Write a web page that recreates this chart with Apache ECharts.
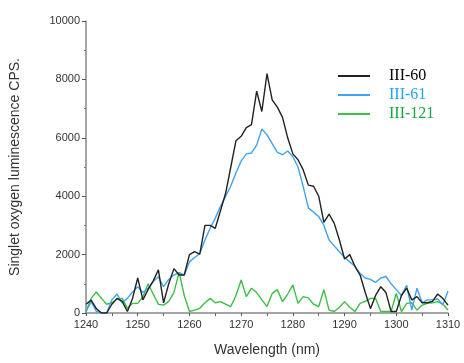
<!DOCTYPE html>
<html><head><meta charset="utf-8">
<script src="https://cdn.jsdelivr.net/npm/echarts@6/dist/echarts.min.js"></script>
<style>html,body{margin:0;padding:0;background:#fff}#c{width:464px;height:363px}</style>
</head><body><div id="c"></div>
<script>
var wavelengths = [];
for (var w = 1240; w <= 1310; w++) wavelengths.push(w);
var seriesNames = ['III-60', 'III-61', 'III-121'];
var iii60 = [300,440,150,0,0,300,500,400,50,500,1200,450,800,1100,1480,350,1000,1520,1300,1300,2000,2100,2020,3000,3000,2900,3500,4100,5000,5900,6050,6350,6450,7600,6900,8200,7300,7050,6700,6000,5450,5250,4900,4380,4340,4000,3100,3390,3070,2500,1850,2000,1600,1300,700,150,600,900,700,50,50,600,850,450,560,350,350,400,650,500,270];
var iii61 = [50,390,50,0,0,450,650,350,500,720,900,700,850,1080,1240,900,1150,1300,1380,1300,1750,1900,2040,2500,2900,3250,3650,4000,4350,4800,5200,5450,5480,5750,6300,6100,5800,5500,5420,5550,5350,5000,4330,3600,3450,3300,3000,2500,2300,2100,1900,1750,1600,1350,1200,1150,1050,1200,1250,1000,800,600,950,100,850,350,450,450,480,280,750];
var iii121 = [50,500,720,500,300,350,480,500,160,330,330,550,1000,650,300,270,400,700,1400,600,50,100,160,350,500,350,390,300,220,600,1130,560,850,700,450,220,670,800,390,650,960,330,560,520,300,220,800,100,50,200,390,200,50,330,400,500,500,50,50,50,670,50,330,350,100,270,330,350,390,300,100];
var lineColors = ['#222222', '#3fa3ee', '#3dbf45'];
var textColors = ['#000000', '#1ea6ee', '#1aa648'];
var yTicks = [0, 2000, 4000, 6000, 8000, 10000];

function pairs(arr){ return arr.map(function(v,i){ return [wavelengths[i], v]; }); }
var allData = [iii60, iii61, iii121];

var chart = echarts.init(document.getElementById('c'));
chart.setOption({
  animation: false,
  backgroundColor: '#fff',
  grid: {left: 86, right: 16, top: 21, bottom: 50},
  legend: {
    orient: 'vertical', left: 333, top: 63, itemWidth: 32, itemHeight: 14, itemGap: 3,
    icon: 'path://M0,0 L32,0 L32,2 L0,2 Z',
    textStyle: {fontFamily: 'Liberation Serif', fontSize: 16, padding: [0,0,0,14]},
    data: seriesNames.map(function(n,i){ return {name: n, textStyle: {color: textColors[i]}}; })
  },
  xAxis: {
    type: 'value', min: 1240, max: 1310, interval: 10,
    name: 'Wavelength (nm)', nameLocation: 'middle', nameGap: 30,
    nameTextStyle: {fontFamily: 'Liberation Sans', fontSize: 14, color: '#333'},
    axisLine: {lineStyle: {color: '#888', width: 1.5}},
    axisTick: {inside: false, length: 3, lineStyle: {color: '#555'}},
    minorTick: {show: true, splitNumber: 2, length: 3, lineStyle: {color: '#666'}},
    axisLabel: {fontFamily: 'Liberation Sans', fontSize: 11, color: '#333', margin: 6,
      formatter: function(v){ return String(v); }},
    splitLine: {show: false}
  },
  yAxis: {
    type: 'value', min: 0, max: 10000, interval: 2000,
    name: 'Singlet oxygen luminescence CPS.', nameLocation: 'middle', nameGap: 64, nameRotate: 90,
    nameTextStyle: {fontFamily: 'Liberation Sans', fontSize: 14, color: '#333'},
    axisLine: {show: true, lineStyle: {color: '#888', width: 1.5}},
    axisTick: {show: true, inside: false, length: 4, lineStyle: {color: '#555'}},
    minorTick: {show: true, splitNumber: 2, length: 2, lineStyle: {color: '#777'}},
    axisLabel: {fontFamily: 'Liberation Sans', fontSize: 11, color: '#333', margin: 6,
      formatter: function(v){ return yTicks.indexOf(v) >= 0 ? String(v) : ''; }},
    splitLine: {show: false}
  },
  series: seriesNames.map(function(n,i){
    return {name: n, type: 'line', data: pairs(allData[i]), showSymbol: false, symbol: 'none',
      lineStyle: {color: lineColors[i], width: 1.4}, itemStyle: {color: lineColors[i]}, z: 3 - i};
  })
});
</script></body></html>
